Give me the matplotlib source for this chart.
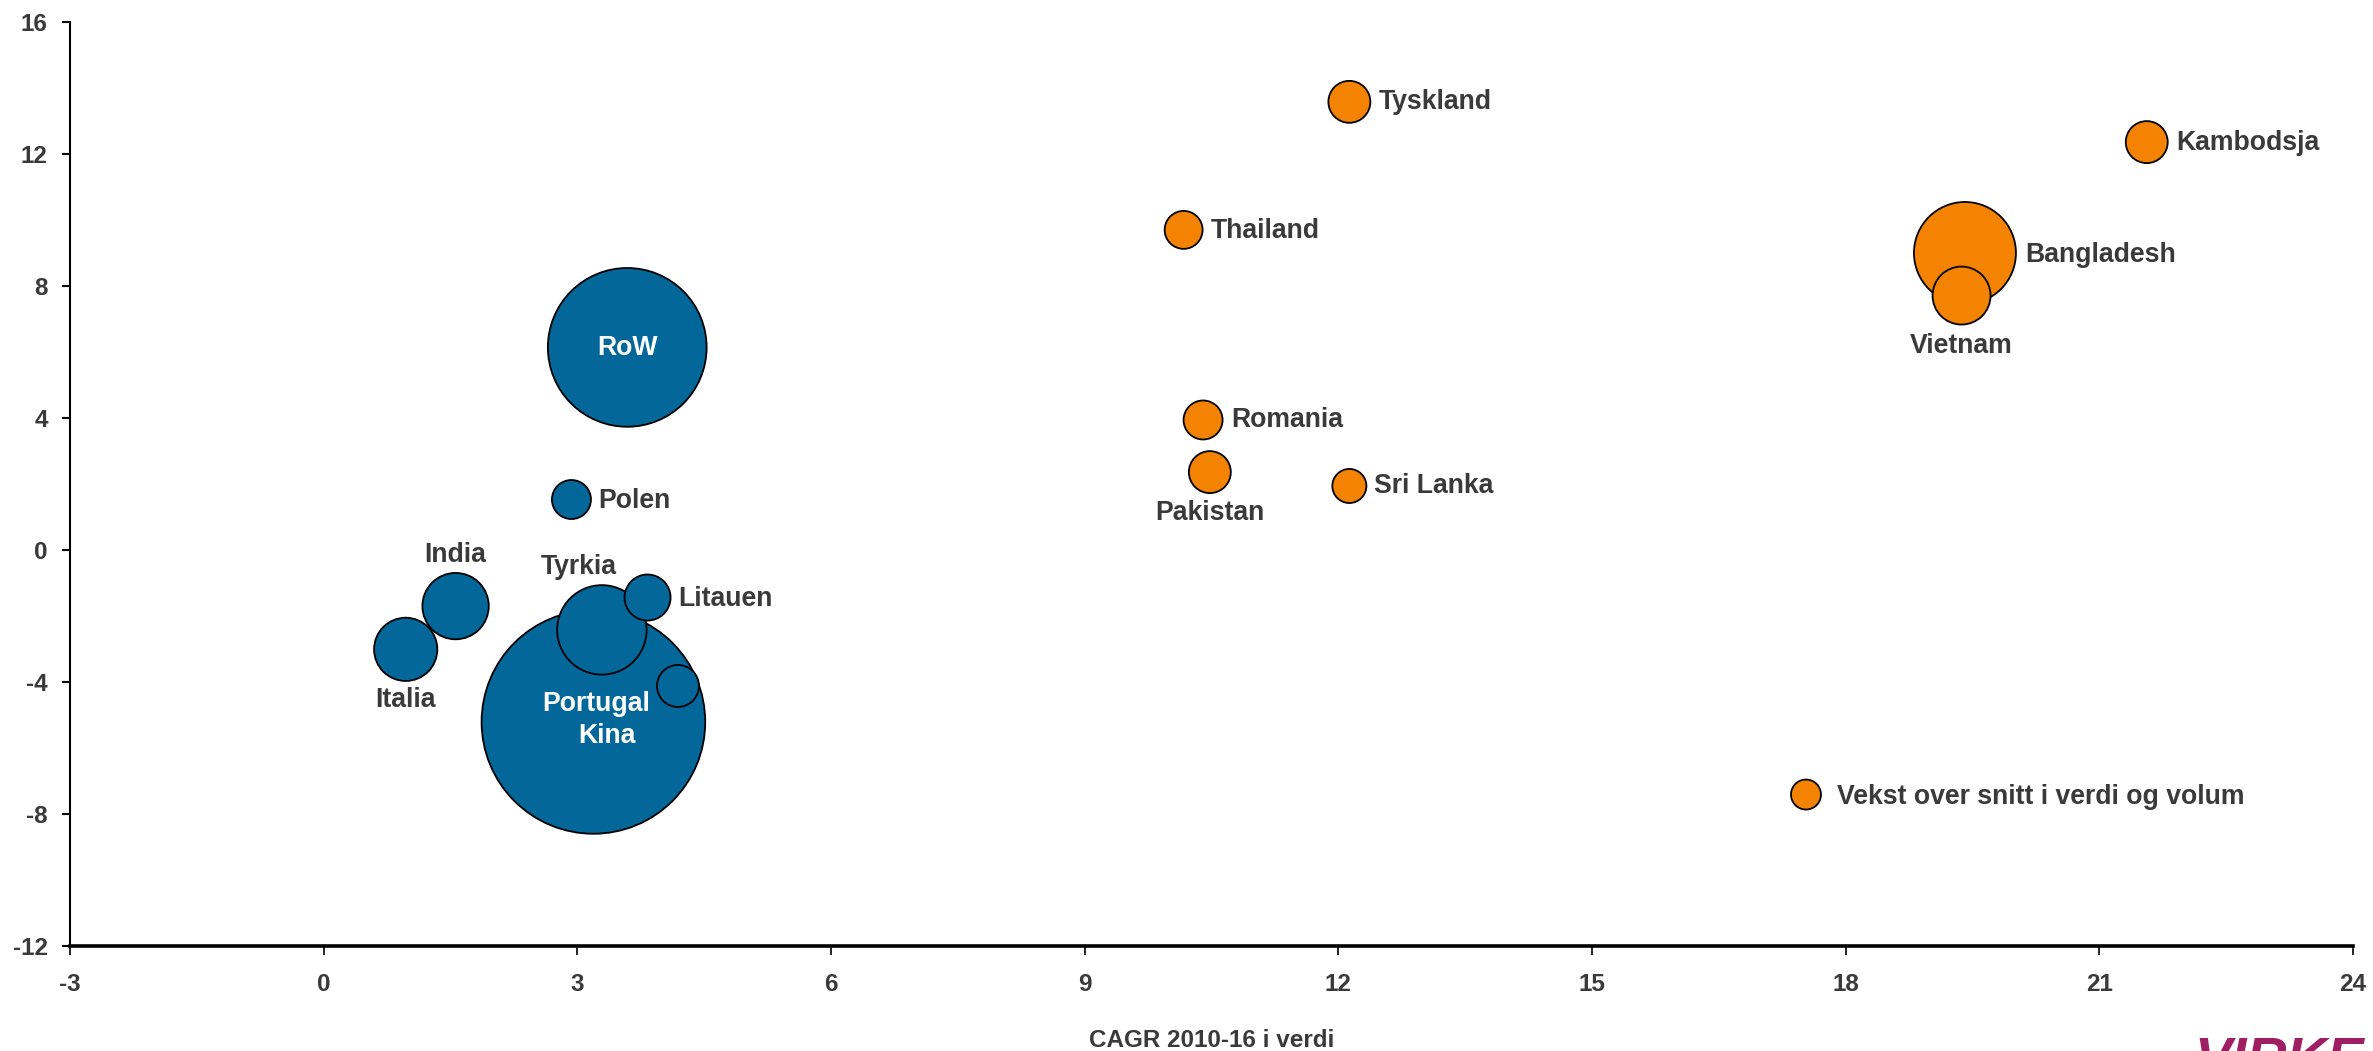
import numpy as np
import matplotlib
matplotlib.use("Agg")
import matplotlib.pyplot as plt

plt.rcParams['font.family'] = ['Liberation Sans', 'DejaVu Sans']

# blue: the rest, orange: growth above average in value and volume
blue_names = ["Kina", "RoW", "Tyrkia", "India", "Italia", "Litauen", "Portugal", "Polen"]
blue_x = [3.19, 3.59, 3.29, 1.56, 0.97, 3.83, 4.19, 2.93]
blue_y = [-5.22, 6.13, -2.43, -1.71, -3.02, -1.45, -4.13, 1.52]
blue_size = [125, 63, 20, 11, 10, 5.3, 4.4, 3.8]

orange_names = ["Bangladesh", "Vietnam", "Tyskland", "Kambodsja", "Pakistan",
                "Romania", "Thailand", "Sri Lanka", "Vekst over snitt i verdi og volum"]
orange_x = [19.41, 19.37, 12.13, 21.56, 10.48, 10.40, 10.17, 12.13, 17.53]
orange_y = [8.99, 7.70, 13.57, 12.35, 2.35, 3.93, 9.69, 1.93, -7.42]
orange_size = [26, 8.4, 4.4, 4.4, 4.4, 3.8, 3.6, 2.9, 2.25]

x_ticks = [-3, 0, 3, 6, 9, 12, 15, 18, 21, 24]
y_ticks = [-12, -8, -4, 0, 4, 8, 12, 16]

# label placement: (dx px, dy px down, ha, colour)
TXT = '#3a3a3a'
label_pos = {
    "Kina": (14, 14, 'center', 'white'),
    "RoW": (0, 1, 'center', 'white'),
    "Tyrkia": (-23, -63, 'center', TXT),
    "India": (0, -51, 'center', TXT),
    "Italia": (0, 51, 'center', TXT),
    "Litauen": (31, 1, 'left', TXT),
    "Portugal": (-82, 18, 'center', 'white'),
    "Polen": (27, 1, 'left', TXT),
    "Bangladesh": (60, 2, 'left', TXT),
    "Vietnam": (0, 50, 'center', TXT),
    "Tyskland": (29, 0, 'left', TXT),
    "Kambodsja": (30, 1, 'left', TXT),
    "Pakistan": (0, 41, 'center', TXT),
    "Romania": (28, 0, 'left', TXT),
    "Thailand": (27, 1, 'left', TXT),
    "Sri Lanka": (25, 0, 'left', TXT),
    "Vekst over snitt i verdi og volum": (31, 2, 'left', TXT),
}

BLUE = '#03679A'
ORANGE = '#F58302'
SCALE = 207.4

fig = plt.figure(figsize=(23.73, 10.51), dpi=100)
ax = fig.add_axes([0.0295, 0.1002, 0.9621, 0.8792])

def draw(names, xs, ys, sizes, color, z):
    order = np.argsort(sizes)[::-1]
    ax.scatter(np.array(xs)[order], np.array(ys)[order],
               s=np.array(sizes)[order] * SCALE, c=color,
               edgecolors='black', linewidths=1.3, zorder=z)
    for n, x, y in zip(names, xs, ys):
        dx, dy, ha, col = label_pos[n]
        ax.annotate(n, (x, y), xytext=(dx, -dy), textcoords='offset pixels',
                    ha=ha, va='center', fontsize=19.2, fontweight='bold',
                    color=col, zorder=z + 1)

draw(blue_names, blue_x, blue_y, blue_size, BLUE, 3)
draw(orange_names, orange_x, orange_y, orange_size, ORANGE, 5)

ax.set_xlim(-3, 24)
ax.set_ylim(-12, 16)
ax.set_xticks(x_ticks)
ax.set_yticks(y_ticks)
ax.set_xticklabels([str(t) for t in x_ticks])
ax.set_yticklabels([str(t) for t in y_ticks])
for s in ['top', 'right']:
    ax.spines[s].set_visible(False)
ax.spines['left'].set_linewidth(1.5)
ax.spines['bottom'].set_linewidth(2.6)
ax.tick_params(axis='y', length=6, width=1.5, pad=10, labelsize=17.5,
               labelcolor=TXT)
ax.tick_params(axis='x', length=6.5, width=1.2, pad=13, labelsize=17.5,
               labelcolor=TXT)
for lab in ax.get_xticklabels() + ax.get_yticklabels():
    lab.set_fontweight('bold')

ax.set_xlabel("CAGR 2010-16 i verdi", fontsize=17.5, fontweight='bold',
              color=TXT, labelpad=24)

# logo, cut off by the bottom edge as in the original
fig.text(2194 / 2373, 1 - 1036 / 1051, "VIRKE", va='top', ha='left',
         fontsize=40, fontweight='bold', fontstyle='italic', color='#9E1F63')

fig.savefig("out.png", dpi=100, facecolor='white')
